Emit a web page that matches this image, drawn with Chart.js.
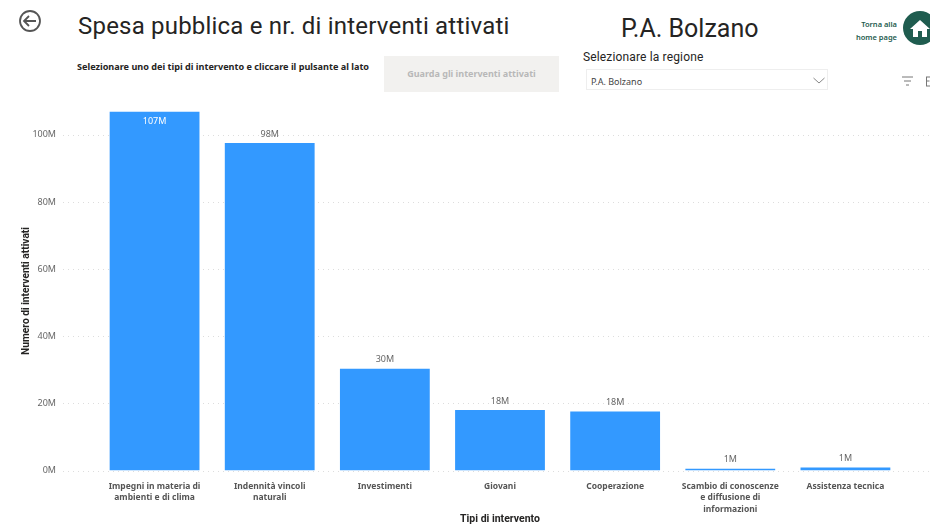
<!DOCTYPE html>
<html>
<head>
<meta charset="utf-8">
<style>
  html, body { margin: 0; padding: 0; background: #fff; overflow: hidden; }
  #page { position: relative; width: 930px; height: 526px; overflow: hidden; font-family: "Noto Sans", sans-serif; }
  #page > div, #page > svg { position: absolute; white-space: nowrap; }
  #chartBox { left: 0; top: 65px; width: 930px; height: 461px; }
  .din { font-family: Roboto, sans-serif; color: #252423; }
</style>
<script src="https://cdn.jsdelivr.net/npm/chart.js@4/dist/chart.umd.min.js"></script>
</head>
<body>
<div id="page">
  <svg style="left:18px;top:9px" width="24" height="24" viewBox="0 0 24 24" fill="none" stroke="#555" stroke-width="1.8">
    <circle cx="12" cy="12" r="10"/>
    <path d="M18 12H6M11 7l-5 5 5 5"/>
  </svg>
  <div class="din" style="left:78px;top:10px;font-size:24px;line-height:32px;letter-spacing:.2px">Spesa pubblica e nr. di interventi attivati</div>
  <div class="din" style="left:621px;top:12px;font-size:25px;line-height:34px">P.A. Bolzano</div>
  <div style="left:77px;top:60px;font-size:9.1px;line-height:14px;font-weight:700;color:#252423">Selezionare uno dei tipi di intervento e cliccare il pulsante al lato</div>
  <div style="left:384px;top:56px;width:175px;height:36px;line-height:36px;background:#f2f1ef;text-align:center;font-size:9px;font-weight:700;color:#b8b8b8">Guarda gli interventi attivati</div>
  <div class="din" style="left:583px;top:49px;font-size:12px;line-height:16px;letter-spacing:.15px">Selezionare la regione</div>
  <div style="left:586px;top:69px;width:240px;height:19px;border:1px solid #eeeeee;font-size:9px;line-height:23px;color:#444;text-indent:4px">P.A. Bolzano</div>
  <svg style="left:812px;top:76px" width="14" height="10" viewBox="0 0 14 10" fill="none" stroke="#888" stroke-width="1"><path d="M1.5 2l5.5 5 5.5-5"/></svg>
  <div style="left:840px;top:18px;width:57px;font-size:7.5px;line-height:13px;font-weight:600;color:#1f5c4f;text-align:right">Torna alla<br>home page</div>
  <svg style="left:903px;top:11px" width="34" height="34" viewBox="0 0 34 34">
    <circle cx="17" cy="17" r="17" fill="#1f5c4f"/>
    <path d="M7 18l10-9 10 9h-3v8h-5v-6h-4v6h-5v-8z" fill="#fff"/>
  </svg>
  <svg style="left:901px;top:75px" width="29" height="13" viewBox="0 0 29 13" fill="none" stroke="#777" stroke-width="1">
    <path d="M1 2h11M3 6h7M5 10h3"/>
    <rect x="25.5" y="2" width="6" height="9"/>
    <path d="M25.5 6h3"/>
  </svg>
  <div id="chartBox"><canvas id="barChart"></canvas></div>
</div>
<script>
const categories = [
  ["Impegni in materia di", "ambienti e di clima"],
  ["Indennità vincoli", "naturali"],
  "Investimenti",
  "Giovani",
  "Cooperazione",
  ["Scambio di conoscenze", "e diffusione di", "informazioni"],
  "Assistenza tecnica",
];
const spesaValues = [107, 97.6, 30.3, 18, 17.6, 0.5, 0.9];
const yTicks = [0, 20, 40, 60, 80, 100];

const labelFont = '"Noto Sans", sans-serif';

// dotted lines run wider than the bars, past both ends of the plot area
const dottedGrid = {
  id: "dottedGrid",
  beforeDatasetsDraw(chart) {
    const { ctx, scales } = chart;
    ctx.save();
    ctx.strokeStyle = "#dddddd";
    ctx.lineWidth = 1;
    ctx.setLineDash([1, 4]);
    yTicks.forEach((t) => {
      const y = Math.round(scales.y.getPixelForValue(t)) + 0.5;
      ctx.beginPath();
      ctx.moveTo(63, y);
      ctx.lineTo(930, y);
      ctx.stroke();
    });
    ctx.restore();
  },
};

const barLabels = {
  id: "barLabels",
  afterDatasetsDraw(chart) {
    const { ctx } = chart;
    const bars = chart.getDatasetMeta(0).data;
    ctx.save();
    ctx.font = "9px " + labelFont;
    ctx.textAlign = "center";
    ctx.textBaseline = "middle";
    bars.forEach((bar, i) => {
      const inside = bar.y < chart.chartArea.top + 8;
      ctx.fillStyle = inside ? "#ffffff" : "#666666";
      ctx.fillText(Math.round(spesaValues[i]) + "M", bar.x, inside ? bar.y + 10 : bar.y - 9);
    });
    ctx.restore();
  },
};

new Chart(document.getElementById("barChart"), {
  type: "bar",
  data: {
    labels: categories,
    datasets: [
      {
        data: spesaValues,
        backgroundColor: "#3399ff",
        barPercentage: 0.78,
        categoryPercentage: 1,
      },
    ],
  },
  plugins: [dottedGrid, barLabels],
  options: {
    responsive: true,
    maintainAspectRatio: false,
    animation: false,
    layout: { padding: { top: 12, right: 27, left: 0, bottom: 0 } },
    plugins: { legend: { display: false }, tooltip: { enabled: false } },
    scales: {
      x: {
        afterFit: (scale) => { scale.height = 55.5; },
        grid: { display: false, drawTicks: false },
        border: { display: false },
        ticks: {
          maxRotation: 0,
          autoSkip: false,
          padding: 10,
          color: "#555555",
          font: { family: labelFont, size: 8.5, weight: "700", lineHeight: 1.35 },
        },
        title: {
          display: true,
          text: "Tipi di intervento",
          color: "#252423",
          padding: { top: 0, bottom: 0 },
          font: { family: "Roboto, sans-serif", size: 10.5, weight: "700" },
        },
      },
      y: {
        min: 0,
        max: 107,
        afterFit: (scale) => { scale.width = 97; },
        grid: { display: false, drawTicks: false },
        border: { display: false },
        ticks: {
          stepSize: 20,
          includeBounds: false,
          padding: 41,
          color: "#666666",
          font: { family: labelFont, size: 9 },
          callback: (v) => v + "M",
        },
        title: {
          display: true,
          text: "Numero di interventi attivati",
          color: "#252423",
          padding: { top: 20, bottom: 0 },
          font: { family: "Roboto, sans-serif", size: 10.2, weight: "700" },
        },
      },
    },
  },
});
</script>
</body>
</html>
